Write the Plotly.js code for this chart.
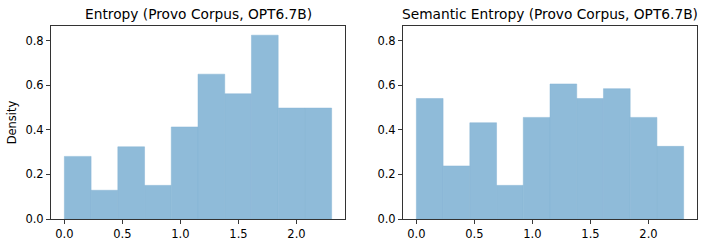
<!DOCTYPE html>
<html>
<head>
<meta charset="utf-8">
<script src="https://cdn.plot.ly/plotly-3.0.1.min.js"></script>
<style>html,body{margin:0;padding:0;background:#fff;}#chart{width:709px;height:247px;}</style>
</head>
<body>
<div id="chart"></div>
<script>
// Bin edges: 10 equal bins from 0 to ln(10)
const binStart = 0;
const binEnd = 2.3026;
const nBins = 10;
const entropyDensity = [0.281, 0.129, 0.324, 0.151, 0.413, 0.650, 0.562, 0.825, 0.498, 0.498];
const semanticDensity = [0.541, 0.238, 0.432, 0.151, 0.456, 0.606, 0.541, 0.585, 0.456, 0.326];
const titles = ["Entropy (Provo Corpus, OPT6.7B)", "Semantic Entropy (Provo Corpus, OPT6.7B)"];
const tickVals = [0.0, 0.5, 1.0, 1.5, 2.0];
const tickText = ["0.0", "0.5", "1.0", "1.5", "2.0"];
const yTickVals = [0.0, 0.2, 0.4, 0.6, 0.8];
const yTickText = ["0.0", "0.2", "0.4", "0.6", "0.8"];

const w = (binEnd - binStart) / nBins;
const centers = [];
for (let i = 0; i < nBins; i++) centers.push(binStart + w * (i + 0.5));

const barColor = "rgb(143,187,217)";
const font = "DejaVu Sans, sans-serif";

function barTrace(y, xa, ya) {
  return {type: "bar", x: centers, y: y, width: w, xaxis: xa, yaxis: ya,
    marker: {color: barColor, line: {width: 0.5, color: "rgba(135,180,212,1)"}}, hoverinfo: "skip"};
}

const xr = [binStart - 0.05 * (binEnd - binStart), binEnd + 0.05 * (binEnd - binStart)];
const ymax = Math.max(...entropyDensity, ...semanticDensity) * 1.05;

function xAxis(dom, anchor) {
  return {domain: dom, anchor: anchor, range: xr, tickvals: tickVals, ticktext: tickText,
    ticks: "outside", ticklen: 4, tickwidth: 0.9, tickcolor: "#222", showgrid: false, zeroline: false,
    showline: true, mirror: true, linecolor: "#333", linewidth: 1,
    tickfont: {family: font, size: 11.5, color: "#000"}};
}
function yAxis(dom, anchor, title) {
  const a = {domain: dom, anchor: anchor, range: [0, ymax], tickvals: yTickVals, ticktext: yTickText,
    ticks: "outside", ticklen: 4, tickwidth: 0.9, tickcolor: "#222", showgrid: false, zeroline: false,
    showline: true, mirror: true, linecolor: "#333", linewidth: 1,
    tickfont: {family: font, size: 11.5, color: "#000"}};
  if (title) a.title = {text: title, font: {family: font, size: 11.5, color: "#000"}, standoff: 6};
  return a;
}

const yd = [28 / 247, 221 / 247];
const layout = {
  width: 709, height: 247,
  margin: {l: 0, r: 0, t: 0, b: 0},
  paper_bgcolor: "#fff", plot_bgcolor: "#fff",
  showlegend: false, bargap: 0,
  xaxis: xAxis([51 / 709, 345 / 709], "y"),
  yaxis: yAxis(yd, "x", "Density"),
  xaxis2: xAxis([403 / 709, 697 / 709], "y2"),
  yaxis2: yAxis(yd, "x2", null),
  annotations: [
    {text: titles[0], x: (51 + 345) / 2 / 709, y: 1 - 14 / 247, xref: "paper", yref: "paper",
     showarrow: false, xanchor: "center", yanchor: "middle", font: {family: font, size: 13.75, color: "#000"}},
    {text: titles[1], x: (403 + 697) / 2 / 709, y: 1 - 14 / 247, xref: "paper", yref: "paper",
     showarrow: false, xanchor: "center", yanchor: "middle", font: {family: font, size: 13.75, color: "#000"}}
  ]
};

Plotly.newPlot("chart", [barTrace(entropyDensity, "x", "y"), barTrace(semanticDensity, "x2", "y2")], layout,
  {staticPlot: true, displayModeBar: false});
</script>
</body>
</html>
